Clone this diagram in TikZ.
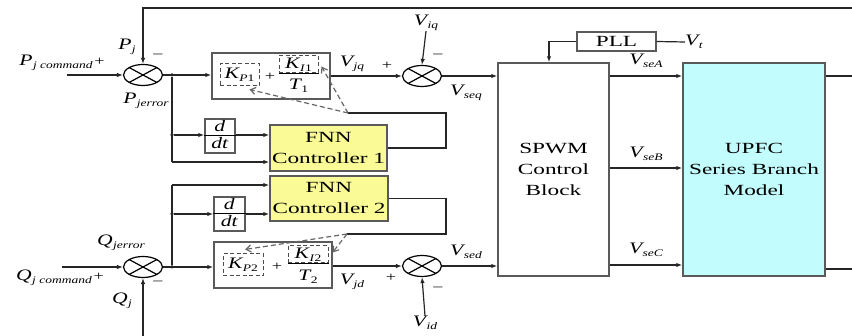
\documentclass[tikz,border=0pt]{standalone}
\usepackage{fontspec}
\setmainfont{Liberation Serif}
\usepackage{graphicx}
\usetikzlibrary{arrows.meta,shapes.geometric,calc}
\definecolor{fnnfill}{RGB}{250,250,150}
\definecolor{upfcfill}{RGB}{195,252,252}
\definecolor{boxline}{RGB}{90,90,90}
\newcommand{\bt}[1]{\scalebox{1.5}[1]{#1}}
\newcommand{\lbl}[2]{\scalebox{1.35}[1]{\fontsize{16}{16}\selectfont\itshape #1\kern0.3pt\raisebox{-0.45ex}{\fontsize{10}{10}\selectfont #2}}}
\newcommand{\sg}[1]{\scalebox{1.4}[1]{\fontsize{13}{13}\selectfont #1}}
\begin{document}
\begin{tikzpicture}[x=1pt,y=-1pt,
  ln/.style={draw=black!85,line width=1.2pt},
  arr/.style={ln,-{Latex[length=6pt,width=4.5pt]}},
  dashar/.style={draw=black!60,line width=1.2pt,dash pattern=on 5pt off 3pt,-{Straight Barb[length=5pt,width=7pt]}},
  blk/.style={draw=boxline,line width=1.4pt,inner sep=0,rectangle},
  dbox/.style={draw=black!70,line width=1pt,dash pattern=on 4pt off 2.5pt,inner sep=0,rectangle},
  bigtxt/.style={font=\fontsize{15.5}{21}\selectfont,align=center},
  sumnode/.style={ellipse,draw=black,line width=1.2pt,minimum width=39pt,minimum height=21pt,inner sep=0,
    path picture={\draw[line width=1.2pt] (path picture bounding box.north west)--(path picture bounding box.south east)
      (path picture bounding box.south west)--(path picture bounding box.north east);}},
  dot/.style={circle,fill=black,inner sep=0,minimum size=3.5pt},
  lab/.style={inner sep=0}]
\useasboundingbox (0,0) rectangle (852,336);

% summing junctions
\node[sumnode] (s1) at (143,75) {};
\node[sumnode] (s2) at (422,76) {};
\node[sumnode] (s3) at (143,267) {};
\node[sumnode] (s4) at (422,266) {};

% PI blocks
\node[blk,minimum width=118pt,minimum height=46pt] (pi1) at (271,76) {};
\node[dbox,minimum width=39pt,minimum height=22pt] (kp1) at (239.5,75) {\lbl{K}{P\textup{1}}};
\node[lab] (pl1) at (270,77) {\sg{+}};
\node[dbox,minimum width=39pt,minimum height=17pt] (ki1) at (298.5,64.5) {\lbl{K}{I\textup{1}}};
\draw[line width=1pt] (ki1.south west) -- (ki1.south east);
\node[lab] (t1) at (298.5,86) {\lbl{T}{\textup{1}}};

\node[blk,minimum width=118pt,minimum height=46pt] (pi2) at (273,265) {};
\node[dbox,minimum width=40pt,minimum height=22pt] (kp2) at (243,265) {\lbl{K}{P\textup{2}}};
\node[lab] (pl2) at (277,267) {\sg{+}};
\node[dbox,minimum width=40pt,minimum height=17pt] (ki2) at (308,254.5) {\lbl{K}{I\textup{2}}};
\draw[line width=1pt] (ki2.south west) -- (ki2.south east);
\node[lab] (t2) at (308,277) {\lbl{T}{\textup{2}}};

% d/dt blocks
\node[blk,minimum width=30pt,minimum height=34pt] (dd1) at (220,136) {};
\draw[line width=1pt] (dd1.west) -- (dd1.east);
\node[lab] (dd1n) at ($(dd1.center)+(0,-8)$) {\lbl{d}{}};
\node[lab] (dd1d) at ($(dd1.center)+(0,9)$) {\lbl{dt}{}};
\node[blk,minimum width=31pt,minimum height=34pt] (dd2) at (229.5,214) {};
\draw[line width=1pt] (dd2.west) -- (dd2.east);
\node[lab] (dd2n) at ($(dd2.center)+(0,-8)$) {\lbl{d}{}};
\node[lab] (dd2d) at ($(dd2.center)+(0,9)$) {\lbl{dt}{}};

% FNN controllers
\node[blk,bigtxt,fill=fnnfill,minimum width=117pt,minimum height=46pt] (f1) at (328.5,148) {\bt{FNN}\\\bt{Controller 1}};
\node[blk,bigtxt,fill=fnnfill,minimum width=118pt,minimum height=45pt] (f2) at (329,198.5) {\bt{FNN}\\\bt{Controller 2}};

% SPWM, PLL, UPFC
\node[blk,bigtxt,minimum width=111pt,minimum height=213pt] (sp) at (553.5,169.5) {\bt{SPWM}\\\bt{Control}\\\bt{Block}};
\node[blk,bigtxt,minimum width=79pt,minimum height=19pt] (pll) at (616.5,41.5) {\bt{PLL}};
\node[blk,bigtxt,fill=upfcfill,minimum width=142pt,minimum height=213pt] (up) at (754,169.5) {\bt{UPFC}\\\bt{Series Branch}\\\bt{Model}};

% junction dots
\node[dot] (j1) at (172,75) {};
\node[dot] (j2) at (172,135) {};
\node[dot] (j3) at (172,214) {};
\node[dot] (j4) at (172,267) {};
\coordinate (c1) at (172,162);
\coordinate (c2) at (172,185);
\coordinate (a1) at (348,113);
\coordinate (a2) at (347,234);
\coordinate (pin) at (67,75);
\coordinate (qin) at (62,267);
\coordinate (top) at (143,8);
\coordinate (topr) at (852,8);
\coordinate (bot) at (143,336);
\coordinate (o1) at (852,76);
\coordinate (o2) at (852,269);

% labels
\node[lab] (lpc) at (62,63) {\lbl{P}{j command}\,\sg{+}};
\node[lab] (lpj) at (127,47) {\lbl{P}{j}};
\node[lab] (lm1) at (158,56) {\sg{\textendash}};
\node[lab] (lpe) at (146,101) {\lbl{P}{jerror}};
\node[lab] (ljq) at (352,64) {\lbl{V}{jq}};
\node[lab] (lp2) at (387,66) {\sg{+}};
\node[lab] (liq) at (426,23) {\lbl{V}{iq}};
\node[lab] (lm2) at (438,56) {\sg{\textendash}};
\node[lab] (lseq) at (466,93) {\lbl{V}{seq}};
\node[lab] (lsa) at (646,61) {\lbl{V}{seA}};
\node[lab] (lsb) at (646,154) {\lbl{V}{seB}};
\node[lab] (lsc) at (646,250) {\lbl{V}{seC}};
\node[lab,anchor=west] (lvt) at (685,42) {\lbl{V}{t}};
\node[lab] (lqe) at (121,243) {\lbl{Q}{jerror}};
\node[lab] (lqc) at (60,278) {\lbl{Q}{j command}\,\sg{+}};
\node[lab] (lqj) at (122,301) {\lbl{Q}{j}};
\node[lab] (lm3) at (158,283) {\sg{\textendash}};
\node[lab] (ljd) at (352,282) {\lbl{V}{jd}};
\node[lab] (lp4) at (391,278) {\sg{+}};
\node[lab] (lsed) at (466,252) {\lbl{V}{sed}};
\node[lab] (lm4) at (438,289) {\sg{\textendash}};
\node[lab] (lid) at (425,323) {\lbl{V}{id}};

% connectors
\draw[arr] (pin) -- (s1.west);
\draw[arr] (topr) -- (top) -- (s1.north);
\draw[arr] (s1.east) -- (pi1.west |- s1.east);
\draw[ln] (j1) -- (c1);
\draw[arr] (j2) -- (dd1.west |- j2);
\draw[arr] (dd1.east |- j2) -- (f1.west |- j2);
\draw[arr] (c1) -- (f1.west |- c1);
\draw[arr] (pi1.east |- s2.west) -- (s2.west);
\draw[arr] (liq.south) -- (s2.north);
\draw[arr] (s2.east) -- (sp.west |- s2.east);
\draw[ln] (f1.east) -- (446,148) -- (446,113) -- (a1);
\draw[dashar] (a1) -- ([xshift=10pt,yshift=-3pt]kp1.south);
\draw[dashar] (a1) -- ([xshift=3pt,yshift=-2pt]ki1.east);

\draw[arr] (qin) -- (s3.west);
\draw[arr] (bot) -- (s3.south);
\draw[arr] (s3.east) -- (pi2.west |- s3.east);
\draw[ln] (j4) -- (c2);
\draw[arr] (c2) -- (f2.west |- c2);
\draw[arr] (j3) -- (dd2.west |- j3);
\draw[arr] (dd2.east |- j3) -- (f2.west |- j3);
\draw[arr] (pi2.east |- s4.west) -- (s4.west);
\draw[arr] (lid.north) -- (s4.south);
\draw[arr] (s4.east) -- (sp.west |- s4.east);
\draw[ln] (f2.east) -- (446,198.5) -- (446,234) -- (a2);
\draw[dashar] (a2) -- ([xshift=2pt,yshift=4pt]kp2.north);
\draw[dashar] (a2) -- ([xshift=4pt,yshift=2pt]ki2.east);

\draw[arr] (pll.west) -| ([xshift=-4.5pt]sp.north);
\draw[ln] (pll.east) -- (lvt.west);
\draw[arr] (sp.east |- 0,76) -- (up.west |- 0,76);
\draw[arr] (sp.east |- 0,168) -- (up.west |- 0,168);
\draw[arr] (sp.east |- 0,265) -- (up.west |- 0,265);
\draw[ln] (up.east |- o1) -- (o1);
\draw[ln] (up.east |- o2) -- (o2);
\end{tikzpicture}
\end{document}
